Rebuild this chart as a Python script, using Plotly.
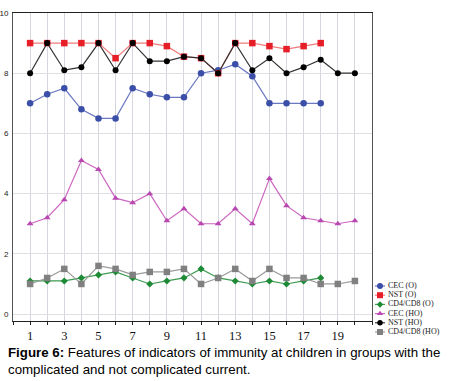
import plotly.graph_objects as go

# ---------------- data ----------------
x_cec_o = list(range(1, 19))
cec_o = [7.0, 7.3, 7.5, 6.8, 6.5, 6.5, 7.5, 7.3, 7.2, 7.2, 8.0, 8.1, 8.3, 7.9, 7.0, 7.0, 7.0, 7.0]

x_nst_o = list(range(1, 19))
nst_o = [9.0, 9.0, 9.0, 9.0, 9.0, 8.5, 9.0, 9.0, 8.9, 8.55, 8.5, 8.0, 9.0, 9.0, 8.9, 8.8, 8.9, 9.0]

x_cd_o = list(range(1, 19))
cd_o = [1.1, 1.1, 1.1, 1.2, 1.3, 1.4, 1.2, 1.0, 1.1, 1.2, 1.5, 1.2, 1.1, 1.0, 1.1, 1.0, 1.1, 1.2]

x_cec_ho = list(range(1, 21))
cec_ho = [3.0, 3.2, 3.8, 5.1, 4.8, 3.85, 3.7, 4.0, 3.1, 3.5, 3.0, 3.0, 3.5, 3.0, 4.5, 3.6, 3.2, 3.1, 3.0, 3.1]

x_nst_ho = list(range(1, 21))
nst_ho = [8.0, 9.0, 8.1, 8.2, 9.0, 8.1, 9.0, 8.4, 8.4, 8.55, 8.5, 8.0, 9.0, 8.1, 8.5, 8.0, 8.2, 8.45, 8.0, 8.0]

x_cd_ho = list(range(1, 21))
cd_ho = [1.0, 1.2, 1.5, 1.0, 1.6, 1.5, 1.3, 1.4, 1.4, 1.5, 1.0, 1.2, 1.5, 1.1, 1.5, 1.2, 1.2, 1.0, 1.0, 1.1]

names = ["CEC (O)", "NST (O)", "CD4/CD8 (O)", "CEC (HO)", "NST (HO)", "CD4/CD8 (HO)"]
x_tick_vals = list(range(0, 22))
x_tick_text = [str(v) if v % 2 == 1 and v < 20 else "" for v in x_tick_vals]
y_tick_vals = [0, 2, 4, 6, 8, 10]

caption_1 = "<b>Figure 6:</b> Features of indicators of immunity at children in groups with the"
caption_2 = "complicated and not complicated current."

# ---------------- styles ----------------
styles = [
    dict(line="#6a78c0", marker="#3b4fa8", symbol="circle", size=6.5),
    dict(line="#f07a7a", marker="#e61e28", symbol="square", size=6.5),
    dict(line="#3c9a50", marker="#1e8a36", symbol="diamond", size=5.5),
    dict(line="#cc66c0", marker="#b848b0", symbol="triangle-up", size=6),
    dict(line="#333333", marker="#000000", symbol="circle", size=6),
    dict(line="#9a9a9a", marker="#808080", symbol="square", size=6.5),
]
series = [(x_cec_o, cec_o), (x_nst_o, nst_o), (x_cd_o, cd_o),
          (x_cec_ho, cec_ho), (x_nst_ho, nst_ho), (x_cd_ho, cd_ho)]
draw_order = [3, 0, 2, 5, 1, 4]

fig = go.Figure()
for i in draw_order:
    xs, ys = series[i]
    st = styles[i]
    fig.add_trace(go.Scatter(
        x=xs, y=ys, mode="lines+markers", name=names[i], showlegend=False,
        line=dict(color=st["line"], width=1.2),
        marker=dict(color=st["marker"], symbol=st["symbol"], size=st["size"]),
    ))

W, H = 450, 381
L, R, T, B = 13, 0, 13, 41
pw, ph = W - L - R, H - T - B
plot_right, plot_bottom = 372, 321
paper_bottom = H - B

# manual compact legend on an overlay axis (pixel units)
LEG_X0, LEG_X1, LEG_XM, LEG_TX = 375, 385, 380, 388
LEG_Y0, LEG_DY = 286, 9.2
for i, nm in enumerate(names):
    st = styles[i]
    yy = LEG_Y0 + LEG_DY * i
    fig.add_trace(go.Scatter(
        x=[LEG_X0, LEG_X1], y=[yy, yy], mode="lines", xaxis="x2", yaxis="y2",
        showlegend=False, hoverinfo="skip",
        line=dict(color=st["line"], width=1.2)))
    fig.add_trace(go.Scatter(
        x=[LEG_XM], y=[yy], mode="markers", xaxis="x2", yaxis="y2",
        showlegend=False, hoverinfo="skip",
        marker=dict(color=st["marker"], symbol=st["symbol"], size=st["size"] - 0.5)))
    fig.add_trace(go.Scatter(
        x=[LEG_TX], y=[yy], mode="text", text=[nm], textposition="middle right",
        xaxis="x2", yaxis="y2", showlegend=False, hoverinfo="skip",
        textfont=dict(family="Liberation Serif, Times New Roman, serif", size=8, color="#222")))

fig.update_layout(
    width=W, height=H,
    margin=dict(l=L, r=R, t=T, b=B, autoexpand=False),
    paper_bgcolor="white", plot_bgcolor="white",
    showlegend=False,
    xaxis=dict(
        domain=[0, (plot_right - L) / pw], automargin=False,
        range=[0, 21], tickvals=x_tick_vals, ticktext=x_tick_text,
        showgrid=True, gridcolor="#d6d6de", gridwidth=1,
        showline=True, linecolor="#222", linewidth=1, mirror=True,
        ticks="outside", ticklen=3, tickcolor="#222",
        tickfont=dict(family="Liberation Serif, Times New Roman, serif", size=12.5, color="#111"),
        zeroline=False,
    ),
    yaxis=dict(
        domain=[(paper_bottom - plot_bottom) / ph, 1], automargin=False,
        range=[-0.23, 10], tickvals=y_tick_vals,
        showgrid=True, gridcolor="#e0e0e4", gridwidth=1,
        showline=True, linecolor="#555", linewidth=1, mirror=True,
        ticks="", ticklabelstandoff=2,
        tickfont=dict(family="Liberation Sans, Arial, sans-serif", size=8, color="#222"),
        zeroline=False,
    ),
    xaxis2=dict(domain=[(373 - L) / pw, 1], range=[373, W], visible=False,
                fixedrange=True, automargin=False),
    yaxis2=dict(domain=[0, (paper_bottom - 281) / ph], range=[paper_bottom, 281],
                visible=False, fixedrange=True, automargin=False),
    annotations=[
        dict(xref="paper", yref="paper", x=(6 - L) / pw, y=(paper_bottom - 353) / ph,
             xanchor="left", yanchor="middle", align="left", showarrow=False,
             text=caption_1,
             font=dict(family="Liberation Sans, Arial, sans-serif", size=13.3, color="#000")),
        dict(xref="paper", yref="paper", x=(6 - L) / pw, y=(paper_bottom - 369) / ph,
             xanchor="left", yanchor="middle", align="left", showarrow=False,
             text=caption_2,
             font=dict(family="Liberation Sans, Arial, sans-serif", size=13.3, color="#000")),
    ],
)

fig.write_html("out.html", config={"displayModeBar": False},
               post_script="document.body.style.margin='0';")
